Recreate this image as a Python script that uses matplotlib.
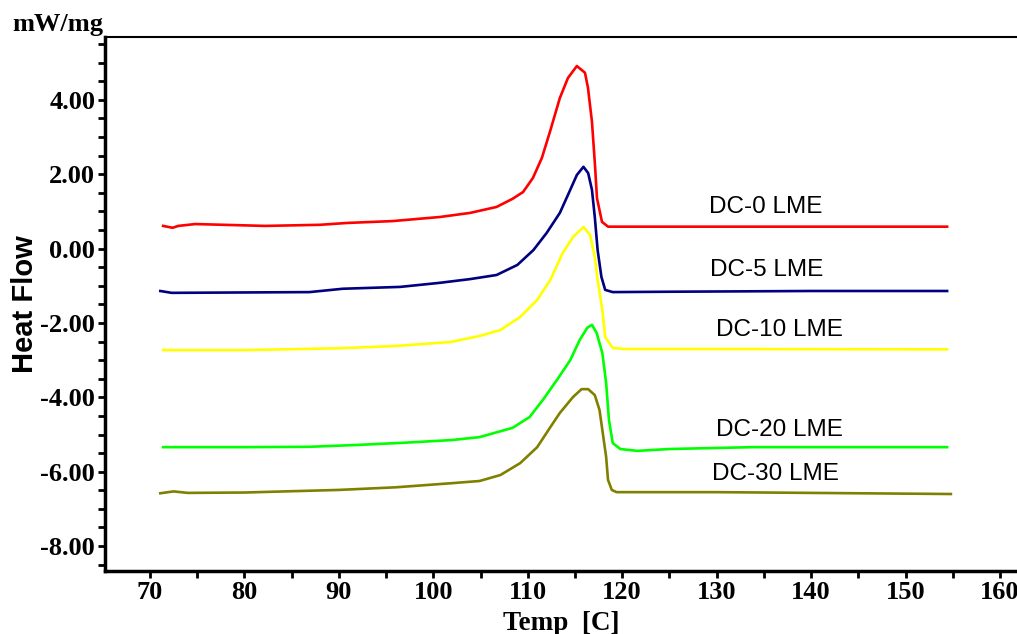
import numpy as np
import matplotlib
matplotlib.use("Agg")
import matplotlib.pyplot as plt
from matplotlib.ticker import MultipleLocator, FormatStrFormatter

plt.rcParams['axes.unicode_minus'] = False

# curves (temperature in C, heat flow in mW/mg)
dc0_t = [71.4, 72.4, 73.0, 74.8, 82.2, 88.0, 90.9, 95.7, 100.7, 103.9, 106.7, 108.4, 109.5, 110.55, 111.5,
         112.35, 113.4, 114.26, 115.2, 116.06, 116.38, 116.8, 117.12, 117.33, 117.86, 118.5, 125, 140, 154.4]
dc0_h = [0.61, 0.56, 0.61, 0.66, 0.61, 0.64, 0.69, 0.74, 0.85, 0.96, 1.12, 1.34, 1.52, 1.90, 2.44,
         3.14, 4.05, 4.59, 4.91, 4.73, 4.32, 3.41, 2.25, 1.36, 0.72, 0.59, 0.59, 0.59, 0.59]

dc5_t = [71.1, 72.3, 86.9, 90.4, 96.5, 100.7, 103.9, 106.7, 108.9, 110.6, 112.0, 113.4, 114.5, 115.2,
         115.9, 116.4, 116.8, 117.1, 117.4, 117.8, 118.2, 119.0, 125.0, 140, 154.4]
dc5_h = [-1.14, -1.19, -1.17, -1.08, -1.03, -0.92, -0.82, -0.71, -0.44, -0.04, 0.42, 0.96, 1.58, 1.98,
         2.20, 2.03, 1.58, 0.85, -0.04, -0.76, -1.11, -1.17, -1.16, -1.14, -1.14]

dc10_t = [71.4, 80, 90, 96, 101.9, 104.9, 107.1, 109.2, 111.0, 112.4, 113.7, 114.8, 115.9, 116.6,
          117.1, 117.4, 117.9, 118.2, 119.0, 120.1, 130, 154.4]
dc10_h = [-2.73, -2.73, -2.68, -2.62, -2.51, -2.35, -2.19, -1.84, -1.38, -0.84, -0.12, 0.31, 0.58, 0.37,
          -0.22, -0.84, -1.65, -2.38, -2.67, -2.70, -2.70, -2.71]

dc20_t = [71.4, 80, 86.9, 92, 97, 101.9, 104.9, 108.4, 110.2, 111.6, 113.1, 114.5, 115.5, 116.3, 116.8,
          117.3, 117.9, 118.3, 118.6, 119.0, 119.8, 121.6, 125.0, 133.8, 154.4]
dc20_h = [-5.34, -5.34, -5.33, -5.28, -5.22, -5.15, -5.07, -4.82, -4.53, -4.07, -3.53, -3.00, -2.46, -2.13, -2.05,
          -2.27, -2.81, -3.61, -4.61, -5.23, -5.39, -5.44, -5.39, -5.34, -5.34]

dc30_t = [71.1, 72.5, 74.0, 80, 90, 96, 101.9, 104.9, 107.1, 109.2, 111.0, 112.4, 113.4, 114.8, 115.7,
          116.4, 117.1, 117.6, 117.9, 118.3, 118.5, 118.9, 119.4, 130, 154.8]
dc30_h = [-6.58, -6.53, -6.57, -6.56, -6.49, -6.42, -6.31, -6.25, -6.09, -5.77, -5.34, -4.80, -4.42, -3.99, -3.78,
          -3.78, -3.94, -4.34, -4.88, -5.60, -6.22, -6.49, -6.55, -6.55, -6.60]

names = ["DC-0 LME", "DC-5 LME", "DC-10 LME", "DC-20 LME", "DC-30 LME"]
label_x = [135.2, 135.3, 136.7, 136.7, 136.2]
label_y = [1.12, -0.57, -2.19, -4.88, -6.06]

curves = [(dc0_t, dc0_h), (dc5_t, dc5_h), (dc10_t, dc10_h), (dc20_t, dc20_h), (dc30_t, dc30_h)]
colors = ["#ff0000", "#000080", "#ffff00", "#00ff00", "#808000"]

fig = plt.figure(figsize=(10.17, 6.34), dpi=100)
ax = fig.add_axes([0.1032, 0.0994, 0.8968, 0.8422])

for (t, h), c in zip(curves, colors):
    ax.plot(t, h, color=c, lw=1.9, solid_joinstyle="round")

for n, x, y in zip(names, label_x, label_y):
    ax.text(x, y, n, ha="center", va="center", fontsize=17.5, family="Liberation Sans")

ax.set_xlim(65.24, 161.8)
ax.set_ylim(-8.67, 5.69)

ax.xaxis.set_major_locator(MultipleLocator(10))
ax.xaxis.set_minor_locator(MultipleLocator(5))
ax.yaxis.set_major_locator(MultipleLocator(2))
ax.yaxis.set_minor_locator(MultipleLocator(0.5))
ax.yaxis.set_major_formatter(FormatStrFormatter("%.2f"))

ax.spines["right"].set_visible(False)
ax.spines["left"].set_linewidth(2.5)
ax.spines["bottom"].set_linewidth(2.5)
ax.spines["top"].set_linewidth(1.5)

ax.tick_params(which="both", direction="out", width=2, length=5, top=False, right=False, pad=2)
for lab in ax.get_xticklabels() + ax.get_yticklabels():
    lab.set_family("Liberation Serif")
    lab.set_fontweight("bold")
    lab.set_fontsize(19)

ax.set_xlabel("Temp  [C]", family="Liberation Serif", fontweight="bold", fontsize=19.5, labelpad=5)
ax.set_ylabel("Heat Flow", family="Liberation Sans", fontweight="bold", fontsize=21, labelpad=1)
fig.text(0.012, 0.962, "mW/mg", family="Liberation Serif", fontweight="bold", fontsize=19, va="center")

fig.savefig("out.png", dpi=100)
